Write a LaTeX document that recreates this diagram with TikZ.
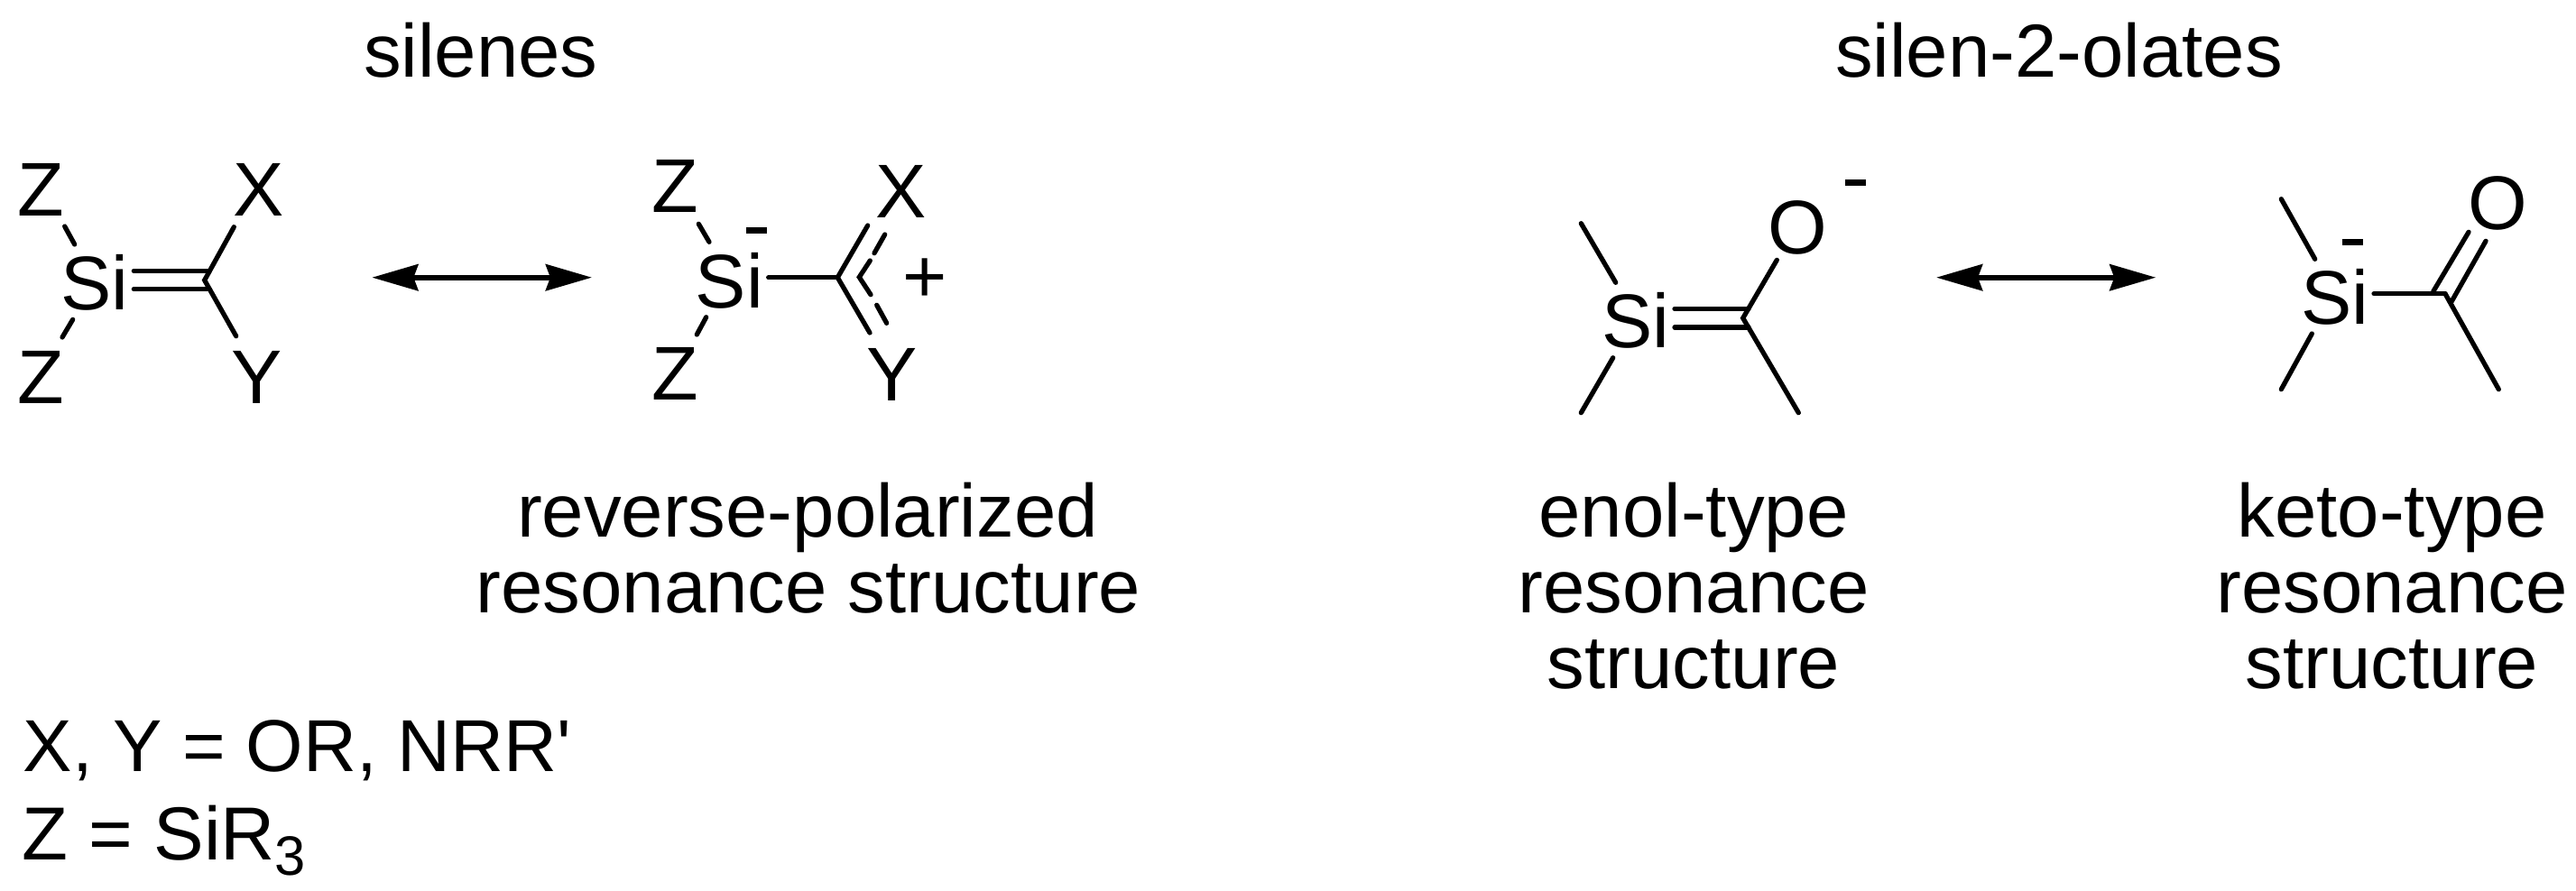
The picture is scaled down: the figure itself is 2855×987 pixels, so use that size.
\documentclass[tikz,border=0pt]{standalone}
\usepackage{fontspec}
\setmainfont{Liberation Sans}
\usetikzlibrary{arrows.meta}
\tikzset{
  atom/.style={inner sep=0pt,font=\fontsize{24}{24}\selectfont},
  lab/.style={inner sep=0pt,anchor=base,font=\fontsize{23.7}{24}\selectfont},
  bond/.style={line width=1.5pt,line cap=round},
  res/.style={line width=1.7pt,{Stealth[length=0.51cm,width=0.29cm,inset=0.05cm]}-{Stealth[length=0.51cm,width=0.29cm,inset=0.05cm]}},
  chg/.style={fill=black,draw=none}
}
\begin{document}
\begin{tikzpicture}[x=0.01cm,y=-0.01cm]
\useasboundingbox (0,0) rectangle (2855,987);
% titles
\node[lab] (t1) at (533,85) {silenes};
\node[lab] (t2) at (2282,85) {silen-2-olates};
\node[lab] (l1) at (895,595) {reverse-polarized};
\node[lab] (l2) at (896,679) {resonance structure};
\node[lab] (l3) at (1877,595) {enol-type};
\node[lab] (l4) at (1877,679) {resonance};
\node[lab] (l5) at (1877,763) {structure};
\node[lab] (l6) at (2651,595) {keto-type};
\node[lab] (l7) at (2651,679) {resonance};
\node[lab] (l8) at (2651,763) {structure};
\node[lab,anchor=base west,font=\fontsize{23.2}{24}\selectfont] (l9) at (25,855) {X, Y = OR, NRR\textquotesingle};
\node[lab,anchor=base west] (l10) at (24,953) {Z = SiR\raisebox{-5pt}{\fontsize{17.5}{18}\selectfont 3}};
% structure 1
\node[atom] (az1) at (45.3,210) {Z};
\node[atom] (ax1) at (286.5,210) {X};
\node[atom] (asi1) at (105,313.7) {Si};
\node[atom] (ay1) at (285,418) {Y};
\node[atom] (az2) at (45.3,418) {Z};
\coordinate (c1) at (226.7,310.7);
\coordinate (c1x) at (259.3,251.7);
\coordinate (c1y) at (261.7,372.7);
\coordinate (b1a) at (148.3,300.3); \coordinate (b1b) at (232,300.3);
\coordinate (b1c) at (148.3,320.7); \coordinate (b1d) at (232,320.7);
\coordinate (z1a) at (71.7,251); \coordinate (z1b) at (82.7,271);
\coordinate (z2a) at (80.7,354.3); \coordinate (z2b) at (69,374);
\draw[bond] (c1x) -- (c1) -- (c1y);
\draw[bond] (b1a) -- (b1b);
\draw[bond] (b1c) -- (b1d);
\draw[bond] (z1a) -- (z1b);
\draw[bond] (z2a) -- (z2b);
% arrow 1
\coordinate (r1a) at (412.3,307.7); \coordinate (r1b) at (656,307.7);
\draw[res] (r1a) -- (r1b);
% structure 2
\node[atom] (az3) at (748.7,206.7) {Z};
\node[atom] (ax2) at (998.7,212) {X};
\node[atom] (asi2) at (808.5,311) {Si};
\node[atom] (ay2) at (988.3,415) {Y};
\node[atom] (az4) at (748.7,414) {Z};
\node[atom] (pl) at (1025,311.3) {+};
\coordinate (c2) at (928.3,307.7);
\coordinate (b2a) at (851.7,307.7);
\coordinate (c2x) at (961.7,250);
\coordinate (c2y) at (964,369);
\coordinate (z3a) at (774.3,248.3); \coordinate (z3b) at (786,268.3);
\coordinate (z4a) at (782.7,351.7); \coordinate (z4b) at (772.3,371);
\coordinate (m1) at (838.3,255.3);
\coordinate (d1) at (980.7,260); \coordinate (d2) at (969,280.7);
\coordinate (d3) at (964.3,289); \coordinate (d4) at (952.3,307.3); \coordinate (d5) at (965,326.7);
\coordinate (d6) at (971.7,338.3); \coordinate (d7) at (982.7,358.3);
\draw[bond] (b2a) -- (c2);
\draw[bond] (c2x) -- (c2) -- (c2y);
\draw[bond] (z3a) -- (z3b);
\draw[bond] (z4a) -- (z4b);
\draw[bond] (d1) -- (d2);
\draw[bond] (d3) -- (d4) -- (d5);
\draw[bond] (d6) -- (d7);
\fill[chg] (m1) ++(-11.5,-3.5) rectangle ++(23,7);
% structure 3
\node[atom] (asi3) at (1812.8,355.3) {Si};
\node[atom] (ao1) at (1992.7,252.3) {O};
\coordinate (c3) at (1931.7,352.7);
\coordinate (c3o) at (1969.3,288.3);
\coordinate (c3m) at (1993.3,457.7);
\coordinate (b3a) at (1856,342.3); \coordinate (b3b) at (1938,342.3);
\coordinate (b3c) at (1856,363); \coordinate (b3d) at (1938,363);
\coordinate (m3a) at (1752.3,247.7); \coordinate (m3b) at (1790.7,313.3);
\coordinate (m3c) at (1787.7,396.7); \coordinate (m3d) at (1752.3,457.7);
\coordinate (m3) at (2056.3,202.3);
\draw[bond] (c3o) -- (c3) -- (c3m);
\draw[bond] (b3a) -- (b3b);
\draw[bond] (b3c) -- (b3d);
\draw[bond] (m3a) -- (m3b);
\draw[bond] (m3c) -- (m3d);
\fill[chg] (m3) ++(-11.5,-3.5) rectangle ++(23,7);
% arrow 2
\coordinate (r2a) at (2146,307.7); \coordinate (r2b) at (2389.3,307.7);
\draw[res] (r2a) -- (r2b);
% structure 4
\node[atom] (asi4) at (2588,329.7) {Si};
\node[atom] (ao2) at (2768.3,225.5) {O};
\coordinate (b4a) at (2631,325.7); \coordinate (b4b) at (2710,325.7);
\coordinate (e1) at (2736,257.3); \coordinate (e2) at (2696.7,323.3);
\coordinate (e3) at (2755,267.3); \coordinate (e4) at (2716.7,335);
\coordinate (c4m) at (2769.3,431.7);
\coordinate (m4a) at (2528.3,220.7); \coordinate (m4b) at (2565.7,287.3);
\coordinate (m4c) at (2562.3,370); \coordinate (m4d) at (2528.3,431.7);
\coordinate (m4) at (2607.5,268.3);
\draw[bond] (b4a) -- (b4b);
\draw[bond] (e1) -- (e2);
\draw[bond] (e3) -- (e4);
\draw[bond] (b4b) -- (c4m);
\draw[bond] (m4a) -- (m4b);
\draw[bond] (m4c) -- (m4d);
\fill[chg] (m4) ++(-11.5,-3.5) rectangle ++(23,7);
\end{tikzpicture}
\end{document}
